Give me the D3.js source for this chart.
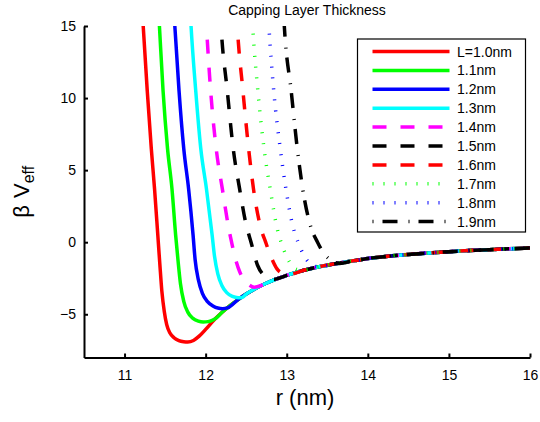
<!DOCTYPE html>
<html>
<head>
<meta charset="utf-8">
<script src="https://cdn.jsdelivr.net/npm/d3@7/dist/d3.min.js"></script>
<style>
  html, body { margin: 0; padding: 0; background: #fff; }
  svg { display: block; font-family: "Liberation Sans", Arial, Helvetica, sans-serif; }
</style>
</head>
<body>
<svg id="chart" width="540" height="422"></svg>
<script>
// Effective pair potential beta*V_eff(r) for capping layers of different thickness L.
// Each series lists its repulsive wall and well as [r (nm), beta*V_eff]; past the well
// every series follows the shared attractive tail.

const seriesLabels = ["L=1.0nm", "1.1nm", "1.2nm", "1.3nm", "1.4nm", "1.5nm", "1.6nm", "1.7nm", "1.8nm", "1.9nm"];

const tail = [
  [12.0, -6.05], [12.1, -5.42], [12.2, -4.88], [12.3, -4.40], [12.4, -3.98], [12.5, -3.60],
  [12.6, -3.26], [12.7, -2.97], [12.8, -2.72], [12.9, -2.50], [13.0, -2.30], [13.2, -1.96],
  [13.4, -1.70], [13.6, -1.49], [13.8, -1.31], [14.0, -1.13], [14.25, -0.97], [14.5, -0.85],
  [14.75, -0.75], [15.0, -0.66], [15.25, -0.58], [15.5, -0.52], [15.75, -0.46], [16.0, -0.41]
];

const wellL10 = [[11.22, 16], [11.23, 15], [11.28, 10.5], [11.33, 6.5], [11.37, 3.7], [11.41, 0.5], [11.435, -1.5],
  [11.46, -3.4], [11.49, -4.8], [11.52, -5.72], [11.56, -6.3], [11.61, -6.63], [11.67, -6.83], [11.73, -6.91],
  [11.78, -6.93], [11.85, -6.82], [11.92, -6.52]];
const wellL11 = [[11.42, 16], [11.43, 15], [11.475, 10.5], [11.53, 6.5], [11.585, 3.7], [11.63, 0.5], [11.66, -1.3],
  [11.69, -2.9], [11.73, -4.1], [11.78, -4.85], [11.84, -5.27], [11.91, -5.48], [11.97, -5.54], [12.03, -5.51],
  [12.08, -5.42], [12.12, -5.30]];
const wellL12 = [[11.61, 16], [11.62, 15], [11.672, 10.5], [11.73, 6.5], [11.79, 3.7], [11.845, 0.5], [11.87, -1.2],
  [11.91, -2.6], [11.96, -3.55], [12.02, -4.1], [12.09, -4.42], [12.15, -4.57], [12.21, -4.61], [12.27, -4.56]];
const wellL13 = [[11.81, 16], [11.82, 15], [11.878, 10.5], [11.94, 6.5], [12.01, 3.7], [12.08, 0.5], [12.11, -1.0],
  [12.15, -2.2], [12.20, -3.0], [12.26, -3.5], [12.33, -3.76], [12.40, -3.85], [12.45, -3.83]];
const wellL14 = [[12.0, 16], [12.01, 15], [12.062, 10.5], [12.13, 6.5], [12.206, 3.7], [12.29, 0.8], [12.32, 0],
  [12.37, -1.2], [12.42, -2.05], [12.48, -2.65], [12.54, -2.98], [12.60, -3.12]];
const wellL15 = [[12.18, 16], [12.19, 15], [12.267, 10.5], [12.34, 6.5], [12.419, 3.7], [12.50, 1.2], [12.56, 0],
  [12.64, -1.6], [12.71, -2.25], [12.78, -2.50], [12.85, -2.57]];
const wellL16 = [[12.38, 16], [12.39, 15], [12.46, 10.5], [12.53, 6.5], [12.59, 3.7], [12.68, 1.0], [12.74, 0],
  [12.82, -1.2], [12.88, -1.85], [12.95, -2.15], [13.04, -2.22]];
const wellL17 = [[12.57, 16], [12.58, 15], [12.644, 10.5], [12.72, 6.5], [12.796, 3.7], [12.88, 1.0], [12.93, 0],
  [13.0, -1.0], [13.06, -1.6], [13.12, -1.88], [13.18, -1.94]];
const wellL18 = [[12.77, 16], [12.78, 15], [12.84, 10.5], [12.92, 6.5], [12.99, 3.7], [13.08, 1.0], [13.14, 0],
  [13.22, -1.0], [13.28, -1.45], [13.34, -1.68]];
const wellL19 = [[12.96, 16], [12.97, 15], [13.055, 10.5], [13.13, 6.5], [13.197, 3.7], [13.30, 1.0], [13.38, 0],
  [13.46, -0.8], [13.52, -1.15], [13.58, -1.38], [13.65, -1.47], [13.72, -1.42]];

const wells = [wellL10, wellL11, wellL12, wellL13, wellL14, wellL15, wellL16, wellL17, wellL18, wellL19];

const xTicks = [11, 12, 13, 14, 15, 16];
const yTicks = [-5, 0, 5, 10, 15];
const xDomain = [10.5, 16];
const yDomain = [-8, 15];

// line styles (colour, dash pattern)
const lineColors = ["#ff0000", "#00ff00", "#0000ff", "#00ffff", "#ff00ff", "#000000", "#ff0000", "#00ff00", "#0000ff", "#000000"];
const dashed = "14,14", dotted = "1,10", dashDot = "1,9,15,11";
const lineDashes = [null, null, null, null, dashed, dashed, dashed, dotted, dotted, dashDot];

(function draw() {
  const plotL = 84, plotR = 530, plotT = 26, plotB = 357.5;
  const lineW = 3.5;
  const svg = d3.select("#chart");

  const x = d3.scaleLinear().domain(xDomain).range([plotL, plotR]);
  const y = d3.scaleLinear().domain(yDomain).range([plotB, plotT]);

  svg.append("defs").append("clipPath").attr("id", "plot-clip")
    .append("rect").attr("x", plotL).attr("y", plotT).attr("width", plotR - plotL).attr("height", plotB - plotT);

  // Each series = its own wall/well, then the common tail beyond its last point.
  const series = wells.map(w => {
    const rEnd = w[w.length - 1][0];
    return w.concat(tail.filter(p => p[0] > rEnd + 0.04));
  });

  const line = d3.line().x(d => x(d[0])).y(d => y(d[1])).curve(d3.curveMonotoneX);

  const plot = svg.append("g").attr("clip-path", "url(#plot-clip)");
  series.forEach((s, i) => {
    plot.append("path")
      .datum(s)
      .attr("d", line)
      .attr("fill", "none")
      .attr("stroke", lineColors[i])
      .attr("stroke-width", lineW)
      .attr("stroke-dasharray", lineDashes[i])
      .attr("stroke-linejoin", "round");
  });

  // Axes: ticks pointing into the plot
  const xAxis = d3.axisBottom(x).tickValues(xTicks).tickFormat(d3.format("d"))
    .tickSizeInner(-4).tickSizeOuter(0).tickPadding(12.5);
  const yAxis = d3.axisLeft(y).tickValues(yTicks).tickFormat(d => d < 0 ? "\u2212" + Math.abs(d) : d)
    .tickSizeInner(-4).tickSizeOuter(0).tickPadding(8);

  const gx = svg.append("g").attr("transform", `translate(0,${plotB})`).call(xAxis);
  const gy = svg.append("g").attr("transform", `translate(${plotL},0)`).call(yAxis);
  [gx, gy].forEach(g => {
    g.select(".domain").attr("stroke", "#000").attr("stroke-width", 2);
    g.selectAll(".tick line").attr("stroke", "#000").attr("stroke-width", 2);
    g.selectAll(".tick text").attr("fill", "#000").attr("font-size", 14)
      .attr("font-family", "'Liberation Sans', Arial, sans-serif");
  });

  // Title and axis labels
  svg.append("text").attr("x", (plotL + plotR) / 2).attr("y", 15)
    .attr("text-anchor", "middle").attr("font-size", 14).attr("fill", "#000")
    .text("Capping Layer Thickness");

  svg.append("text").attr("x", (plotL + plotR) / 2 - 2).attr("y", 405)
    .attr("text-anchor", "middle").attr("font-size", 22).attr("fill", "#000")
    .text("r (nm)");

  const yl = svg.append("text")
    .attr("transform", `translate(29,${(plotT + plotB) / 2}) rotate(-90)`)
    .attr("text-anchor", "middle").attr("font-size", 22).attr("fill", "#000");
  yl.append("tspan").text("\u03b2");
  yl.append("tspan").attr("dx", 7).text("V");
  yl.append("tspan").attr("font-size", 16).attr("dy", 5).text("eff");

  // Legend
  const lg = svg.append("g");
  const lgX = 357.5, lgY = 39, lgW = 168, lgH = 193, rowH = 18.9;
  lg.append("rect").attr("x", lgX).attr("y", lgY).attr("width", lgW).attr("height", lgH)
    .attr("fill", "#fff").attr("stroke", "#000").attr("stroke-width", 1.2);
  seriesLabels.forEach((lab, i) => {
    const cy = 51.5 + i * rowH;
    lg.append("line").attr("x1", 372.5).attr("x2", 449.5).attr("y1", cy).attr("y2", cy)
      .attr("stroke", lineColors[i]).attr("stroke-width", lineW)
      .attr("stroke-dasharray", lineDashes[i]);
    lg.append("text").attr("x", 457).attr("y", cy + 5).attr("font-size", 14).attr("fill", "#000").text(lab);
  });
})();
</script>
</body>
</html>
